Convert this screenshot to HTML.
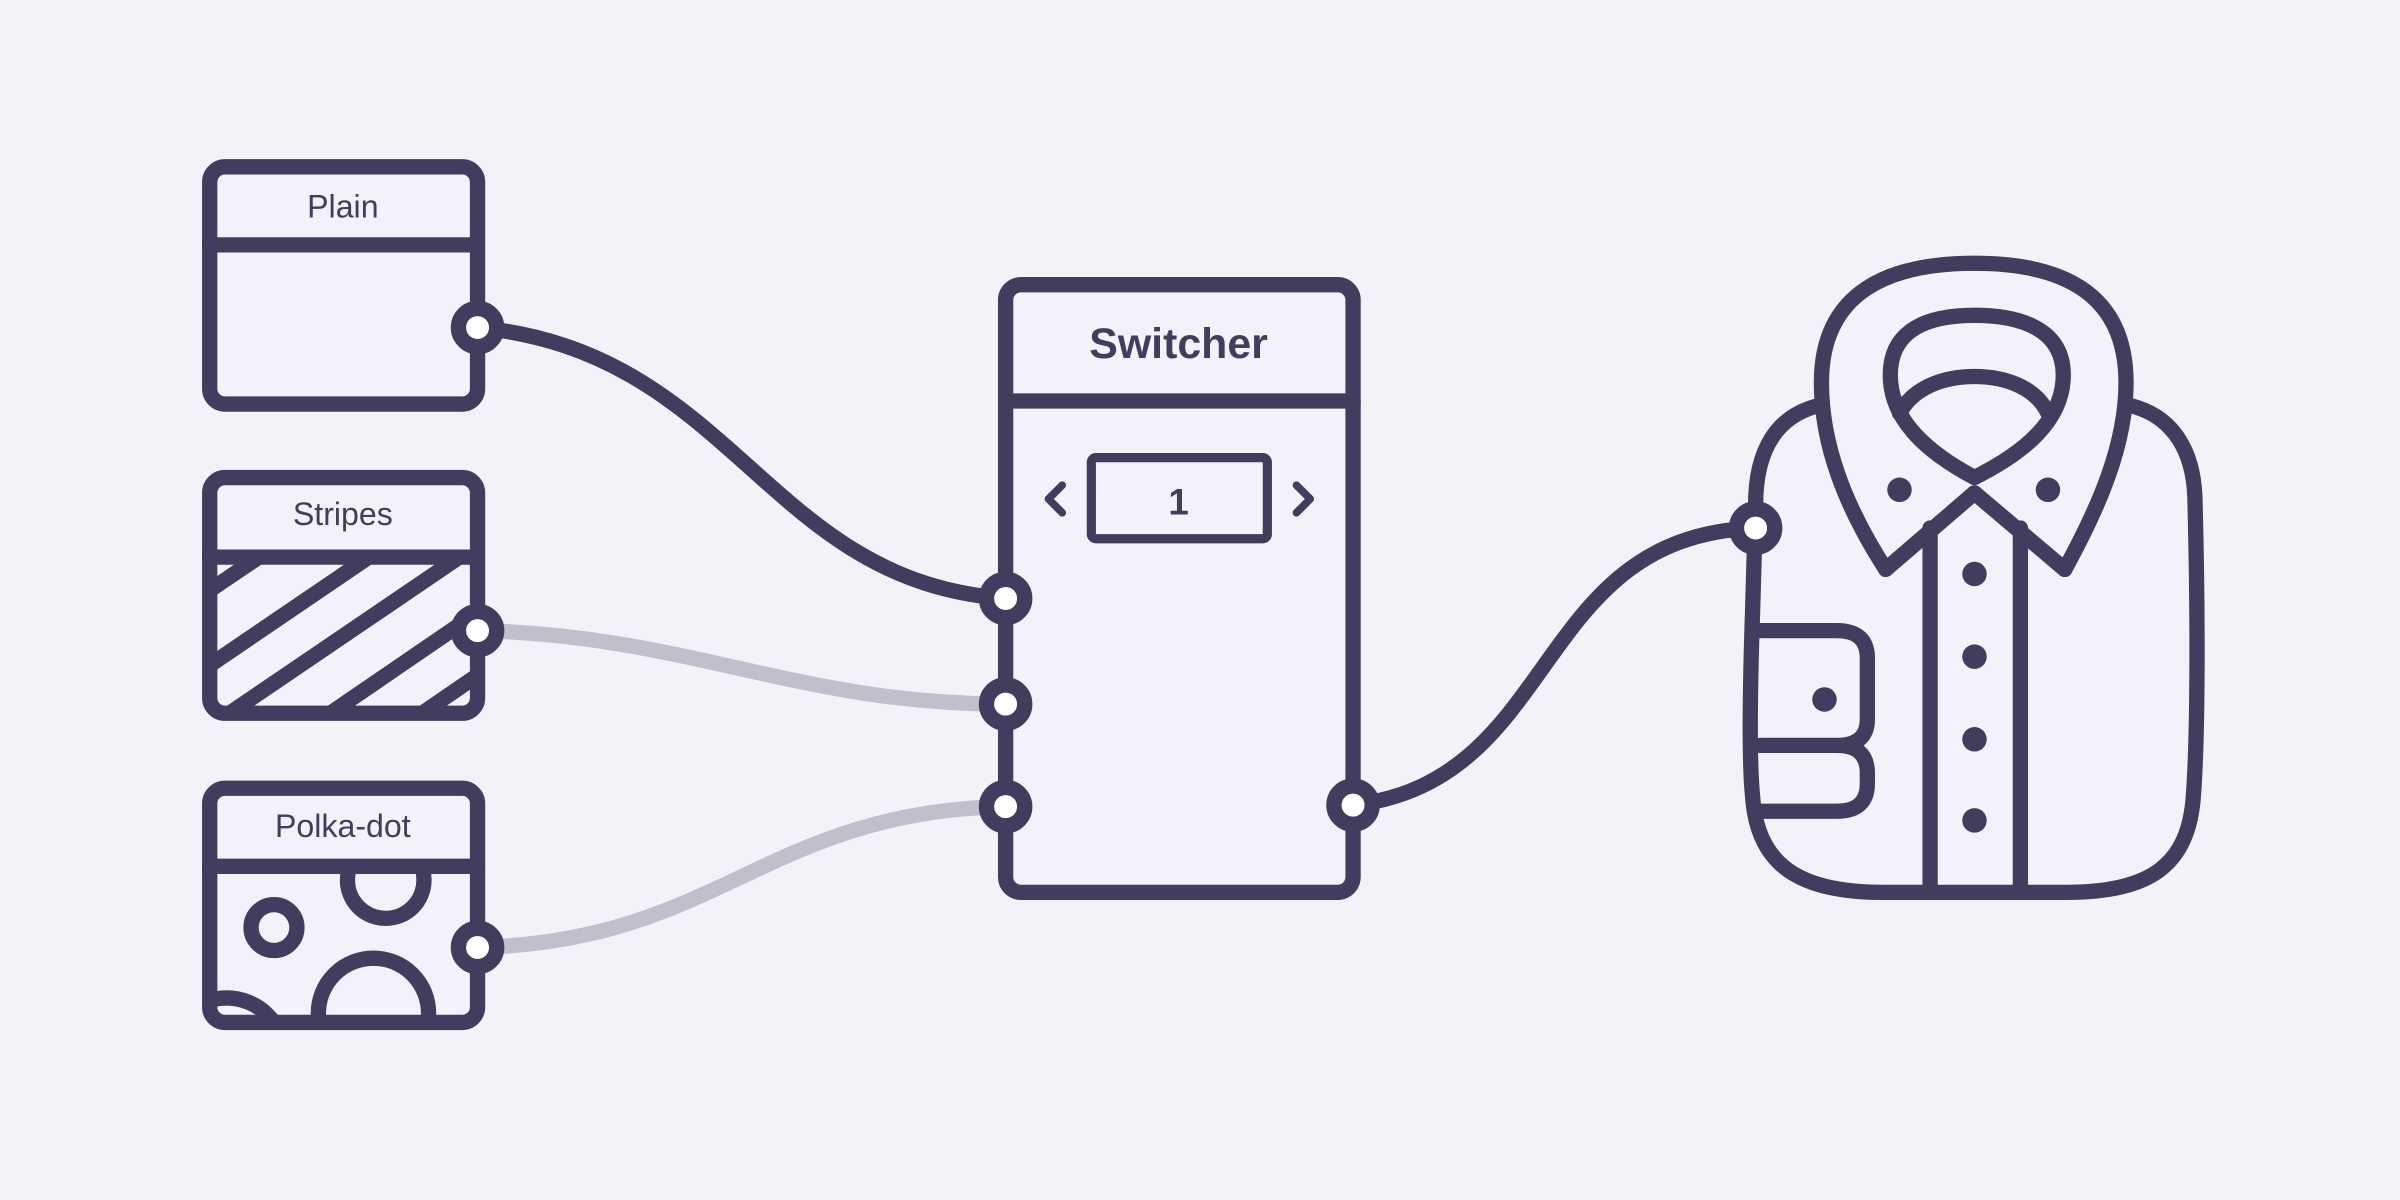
<!DOCTYPE html>
<html><head><style>html,body{margin:0;padding:0;background:#f2f2f8;}svg{display:block}</style></head>
<body>
<svg width="2400" height="1200" viewBox="0 0 1568 784" xmlns="http://www.w3.org/2000/svg">
<rect width="1568" height="784" fill="#f2f2f8"/>
<defs>
<clipPath id="cs"><rect x="140" y="366" width="170" height="98"/></clipPath>
<clipPath id="cp"><rect x="140" y="568" width="170" height="98"/></clipPath>
</defs>
<g fill="none" stroke="#433c5e" stroke-width="10" stroke-linecap="round" stroke-linejoin="round">
<path d="M312,214 C480,230 500,380 657,391" />
<path d="M312,412 C450,415 520,460 657,460" stroke="#c0bfcc"/>
<path d="M312,619 C470,615 500,530 657,527" stroke="#c0bfcc"/>
<path d="M657,391 C770,395 770,520 884,526"/>
<path d="M884,526 C1020,510 1000,350 1147,345"/>
<rect x="137" y="109" width="175" height="155" rx="10" fill="#f3f2fa"/>
<line x1="137" y1="160" x2="312" y2="160"/>
<rect x="137" y="312" width="175" height="154" rx="10" fill="#f3f2fa"/>
<g clip-path="url(#cs)">
<line x1="110" y1="404" x2="200" y2="343"/>
<line x1="110" y1="453" x2="260" y2="351"/>
<line x1="150" y1="466" x2="300" y2="364"/>
<line x1="210" y1="470" x2="340" y2="381"/>
<line x1="270" y1="470" x2="340" y2="422"/>
</g>
<line x1="137" y1="364" x2="312" y2="364"/>
<rect x="137" y="515" width="175" height="153" rx="10" fill="#f3f2fa"/>
<g clip-path="url(#cp)">
<circle cx="252" cy="575" r="25"/>
<circle cx="244" cy="662" r="36"/>
<circle cx="148" cy="690" r="38"/>
</g>
<circle cx="179" cy="606" r="15"/>
<line x1="137" y1="566" x2="312" y2="566"/>
<rect x="657" y="186" width="227" height="397" rx="10" fill="#f3f2fa"/>
<line x1="657" y1="262" x2="884" y2="262"/>
<rect x="713" y="299" width="115" height="53" rx="3" stroke-width="6"/>
<polyline points="694,317 685,326 694,335" stroke-width="5"/>
<polyline points="847,317 856,326 847,335" stroke-width="5"/>
<path d="M1188,265 C1160,272 1147,295 1147,330 L1145,400 C1143,460 1143,500 1145,520 C1148,565 1175,583 1230,583 L1350,583 C1405,583 1430,565 1433,520 C1436,480 1436,400 1434,325 C1433,295 1420,272 1392,265" fill="#f3f2fa"/>
<path d="M1232,372 C1205,330 1190,290 1190,250 C1190,190 1235,172 1290,172 C1345,172 1389,190 1389,250 C1389,290 1372,330 1349,372 L1290,322 Z" fill="#f3f2fa"/>
<path d="M1290,312 C1260,296 1235,275 1235,245 C1235,215 1260,206 1290,206 C1320,206 1348,215 1348,245 C1348,275 1322,296 1290,312" />
<path d="M1241,270 C1250,253 1270,246 1290,246 C1310,246 1330,253 1338,270"/>
<path d="M1232,372 L1290,322 L1349,372"/>
<path d="M1261,345 L1261,583 M1320,345 L1320,583"/>
<path d="M1150,412 L1200,412 Q1220,412 1220,430 L1220,470 Q1220,487 1200,487 L1150,487 M1150,487 L1200,487 Q1220,487 1220,505 L1220,512 Q1220,530 1200,530 L1150,530" fill="none"/>
</g>
<g fill="#433c5e">
<circle cx="1241" cy="320" r="8"/><circle cx="1338" cy="320" r="8"/>
<circle cx="1290" cy="375" r="8"/><circle cx="1290" cy="429" r="8"/>
<circle cx="1290" cy="483" r="8"/><circle cx="1290" cy="536" r="8"/>
<circle cx="1192" cy="457" r="8"/>
</g>
<g fill="#ffffff" stroke="#433c5e" stroke-width="10">
<circle cx="312" cy="214" r="12.5"/>
<circle cx="312" cy="412" r="12.5"/>
<circle cx="312" cy="619" r="12.5"/>
<circle cx="657" cy="391" r="12.5"/>
<circle cx="657" cy="460" r="12.5"/>
<circle cx="657" cy="527" r="12.5"/>
<circle cx="884" cy="526" r="12.5"/>
<circle cx="1147" cy="345" r="12.5"/>
</g>
<g font-family="Liberation Sans, sans-serif" fill="#433c5e" text-anchor="middle">
<text x="224" y="142" font-size="21">Plain</text>
<text x="224" y="343" font-size="21">Stripes</text>
<text x="224" y="547" font-size="21">Polka-dot</text>
<text x="770" y="234" font-size="28" font-weight="bold">Switcher</text>
<text x="770" y="336" font-size="24" font-weight="bold">1</text>
</g>
</svg>
</body></html>
